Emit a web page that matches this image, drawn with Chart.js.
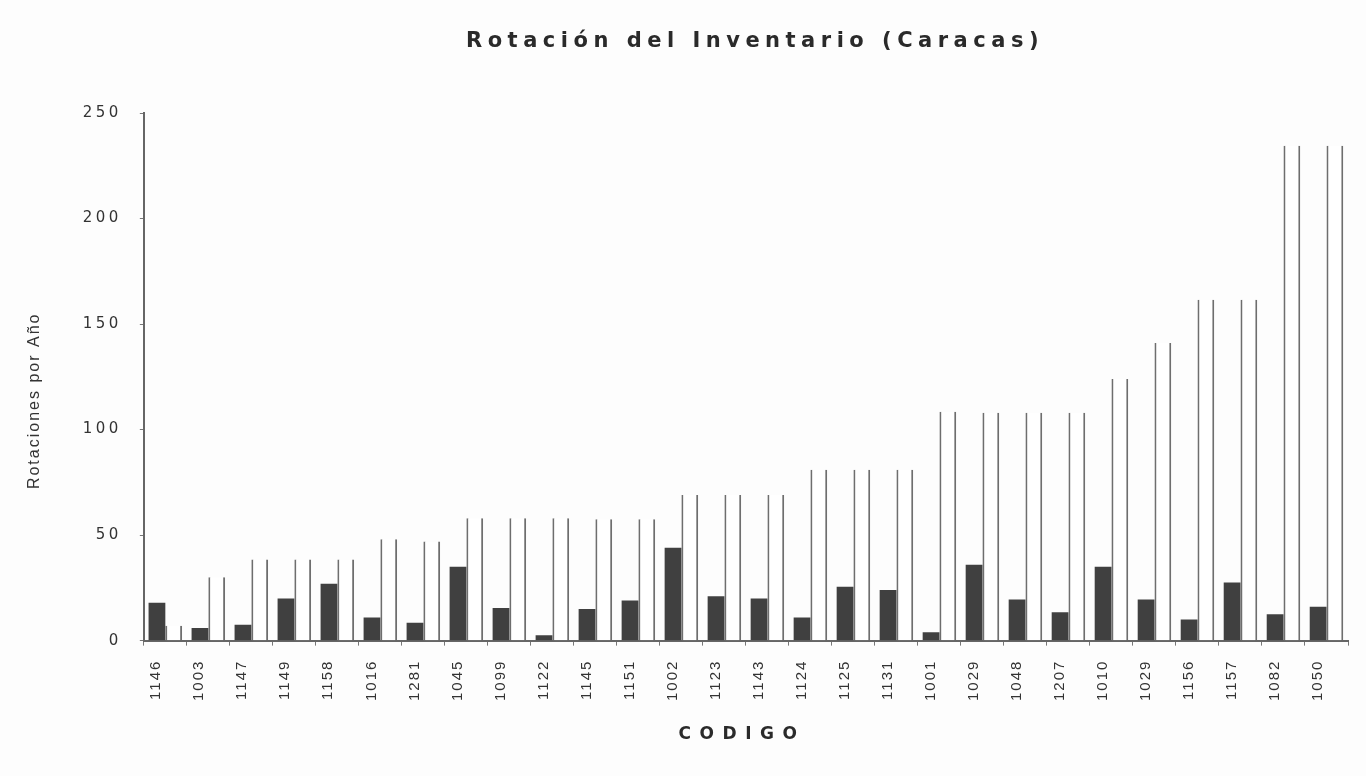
<!DOCTYPE html>
<html>
<head>
<meta charset="utf-8">
<script src="https://cdn.jsdelivr.net/npm/chart.js@4"></script>
<style>
  html, body { margin: 0; padding: 0; background: #fdfdfd; }
  #wrap { width: 1366px; height: 776px; }
</style>
</head>
<body>
<div id="wrap"><canvas id="rotChart" width="1366" height="776"></canvas></div>
<script>
// categories and values
const codigos = ["1146", "1003", "1147", "1149", "1158", "1016", "1281", "1045", "1099", "1122",
                 "1145", "1151", "1002", "1123", "1143", "1124", "1125", "1131", "1001", "1029",
                 "1048", "1207", "1010", "1029", "1156", "1157", "1082", "1050"];
const rotacionReal = [18, 6, 7.5, 20, 27, 11, 8.5, 35, 15.5, 2.5,
                      15, 19, 44, 21, 20, 11, 25.5, 24, 4, 36,
                      19.5, 13.5, 35, 19.5, 10, 27.5, 12.5, 16];
const rotacionMeta = [7, 30, 38.5, 38.5, 38.5, 48, 47, 58, 58, 58,
                      57.5, 57.5, 69, 69, 69, 81, 81, 81, 108.5, 108,
                      108, 108, 124, 141, 161.5, 161.5, 234.5, 234.5];
const yTicks = [0, 50, 100, 150, 200, 250];

// wrap a scale method so its text is drawn with extra letter spacing (and an optional shift)
function spaced(scale, name, spacing, dx, dy) {
    if (scale["_orig_" + name]) return;
    const orig = scale[name];
    scale["_orig_" + name] = orig;
    scale[name] = function (area) {
        const c = this.ctx;
        c.save();
        c.letterSpacing = spacing;
        c.translate(dx || 0, dy || 0);
        orig.call(this, area);
        c.restore();
    };
}

// title + x-axis title drawn with wide letter spacing like the scan
const spacedText = {
    id: "spacedText",
    beforeDraw(chart) {
        spaced(chart.scales.x, "drawLabels", "2px", -9, 0);
        spaced(chart.scales.y, "drawLabels", "3.5px", 0, 0);
        spaced(chart.scales.y, "drawTitle", "2px", 0, 24);
    },
    afterDraw(chart) {
        const ctx = chart.ctx;
        ctx.save();
        ctx.fillStyle = "#2a2a2a";
        ctx.textAlign = "center";
        ctx.textBaseline = "middle";
        ctx.letterSpacing = "5.5px";
        ctx.font = "bold 21px 'DejaVu Sans', sans-serif";
        ctx.fillText("Rotación del Inventario (Caracas)", 755, 42);
        ctx.letterSpacing = "8.5px";
        ctx.font = "bold 17px 'DejaVu Sans', sans-serif";
        ctx.fillText("CODIGO", 742, 735);
        ctx.restore();
    }
};

const ctx = document.getElementById("rotChart");
new Chart(ctx, {
    type: "bar",
    data: {
        labels: codigos,
        datasets: [
            {
                label: "Rotación real",
                data: rotacionReal,
                backgroundColor: "#404040",
                borderWidth: 0
            },
            {
                label: "Rotación meta",
                data: rotacionMeta,
                backgroundColor: "#ffffff",
                borderColor: "#6e6e6e",
                borderWidth: { top: 0, left: 2, right: 2, bottom: 0 },
                borderSkipped: false
            }
        ]
    },
    options: {
        responsive: false,
        animation: false,
        layout: { padding: { top: 113, right: 18, bottom: 69, left: 25 } },
        datasets: { bar: { categoryPercentage: 0.78, barPercentage: 1 } },
        plugins: {
            legend: { display: false },
            tooltip: { enabled: false }
        },
        scales: {
            x: {
                offset: true,
                grid: { display: true, drawOnChartArea: false, offset: true, tickLength: 5, color: "#777" },
                border: { display: true, color: "#666", width: 2 },
                ticks: {
                    color: "#333",
                    font: { family: "'Liberation Sans', Arial, sans-serif", size: 15 },
                    minRotation: 90,
                    maxRotation: 90,
                    autoSkip: false,
                    padding: 14
                }
            },
            y: {
                min: 0,
                max: 250,
                afterBuildTicks(axis) {
                    axis.ticks = yTicks.map(v => ({ value: v }));
                },
                grid: { display: true, drawOnChartArea: false, tickLength: 4, color: "#777" },
                border: { display: true, color: "#666", width: 2 },
                ticks: {
                    color: "#333",
                    font: { family: "'DejaVu Sans', sans-serif", size: 15 },
                    padding: 18
                },
                title: {
                    display: true,
                    text: "Rotaciones por Año",
                    color: "#333",
                    font: { family: "'Liberation Sans', Arial, sans-serif", size: 16 },
                    padding: { top: 0, bottom: 31 }
                }
            }
        }
    },
    plugins: [spacedText]
});
</script>
</body>
</html>
